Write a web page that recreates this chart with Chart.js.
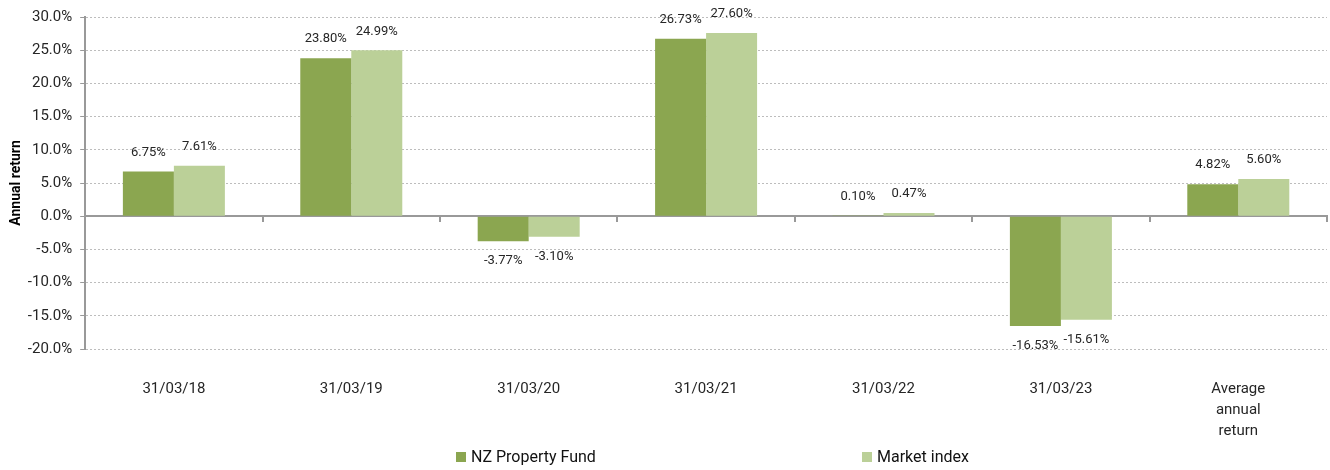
<!DOCTYPE html>
<html>
<head>
<meta charset="utf-8">
<script src="https://cdn.jsdelivr.net/npm/chart.js@4/dist/chart.umd.min.js"></script>
<style>
  html, body { margin: 0; padding: 0; background: #fff; }
  #wrap { width: 1330px; height: 470px; position: relative; }
  .legend-item { position: absolute; top: 447px; height: 20px; line-height: 20px;
    font: 16px Roboto, "Liberation Sans", sans-serif; color: #111; white-space: nowrap; }
  .legend-item i { display: inline-block; width: 10px; height: 10px; margin-right: 5px; vertical-align: 0px; }
</style>
</head>
<body>
<div id="wrap">
  <canvas id="chart"></canvas>
  <div id="legend"></div>
</div>
<script>
const categories = ['31/03/18', '31/03/19', '31/03/20', '31/03/21', '31/03/22', '31/03/23', ['Average', 'annual', 'return']];
const fundReturns = [6.75, 23.80, -3.77, 26.73, 0.10, -16.53, 4.82];
const indexReturns = [7.61, 24.99, -3.10, 27.60, 0.47, -15.61, 5.60];
const seriesNames = ['NZ Property Fund', 'Market index'];
const seriesColors = ['#8ba650', '#bbd098'];

const fontFamily = 'Roboto, "Liberation Sans", sans-serif';

// value labels above / below each bar
const barLabels = {
  id: 'barLabels',
  afterDatasetsDraw(chart) {
    const ctx = chart.ctx;
    ctx.save();
    ctx.font = '13px ' + fontFamily;
    ctx.fillStyle = '#262626';
    ctx.textAlign = 'center';
    ctx.textBaseline = 'middle';
    chart.data.datasets.forEach((ds, i) => {
      chart.getDatasetMeta(i).data.forEach((bar, j) => {
        const v = ds.data[j];
        const y = v >= 0 ? bar.y - 19 : bar.y + 20;
        ctx.fillText(v.toFixed(2) + '%', bar.x, y);
      });
    });
    ctx.restore();
  }
};

const chart = new Chart(document.getElementById('chart'), {
  type: 'bar',
  data: {
    labels: categories,
    datasets: [
      {
        label: seriesNames[0],
        data: fundReturns,
        backgroundColor: seriesColors[0],
        categoryPercentage: 0.575,
        barPercentage: 1.0
      },
      {
        label: seriesNames[1],
        data: indexReturns,
        backgroundColor: seriesColors[1],
        categoryPercentage: 0.575,
        barPercentage: 1.0
      }
    ]
  },
  options: {
    responsive: true,
    maintainAspectRatio: false,
    animation: false,
    layout: { padding: { top: 2, right: 3, left: 6, bottom: 6 } },
    plugins: {
      tooltip: { enabled: false },
      legend: { display: false }
    },
    scales: {
      x: {
        grid: { display: false },
        border: { display: false },
        ticks: {
          color: '#262626',
          padding: 22,
          maxRotation: 0,
          font: { family: fontFamily, size: 15, lineHeight: 1.4 }
        }
      },
      zeroAxis: {
        type: 'category',
        axis: 'x',
        labels: categories,
        position: { y: 0 },
        offset: true,
        grid: { offset: true, drawOnChartArea: false, tickLength: 5, color: '#999', lineWidth: 2 },
        border: { display: true, color: '#999', width: 2 },
        ticks: { display: false }
      },
      y: {
        min: -20,
        max: 30,
        ticks: {
          stepSize: 5,
          color: '#262626',
          padding: 8,
          font: { family: fontFamily, size: 15 },
          callback: (v) => v.toFixed(1) + '%'
        },
        grid: {
          color: '#bdbdbd',
          tickLength: 5,
          tickColor: '#999',
          tickBorderDash: [],
          lineWidth: 1
        },
        border: { color: '#999', width: 2, dash: [2, 2] },
        title: {
          display: true,
          text: 'Annual return',
          color: '#000',
          padding: { top: 2, bottom: -5 },
          font: { family: fontFamily, size: 14, weight: 'bold' }
        }
      }
    }
  },
  plugins: [barLabels]
});

// legend drawn as html, spread out like the reference
const legendX = [456, 862];
const legendBox = document.getElementById('legend');
seriesNames.forEach((name, i) => {
  const item = document.createElement('div');
  item.className = 'legend-item';
  item.style.left = legendX[i] + 'px';
  item.innerHTML = '<i style="background:' + seriesColors[i] + '"></i>' + name;
  legendBox.appendChild(item);
});
</script>
</body>
</html>
